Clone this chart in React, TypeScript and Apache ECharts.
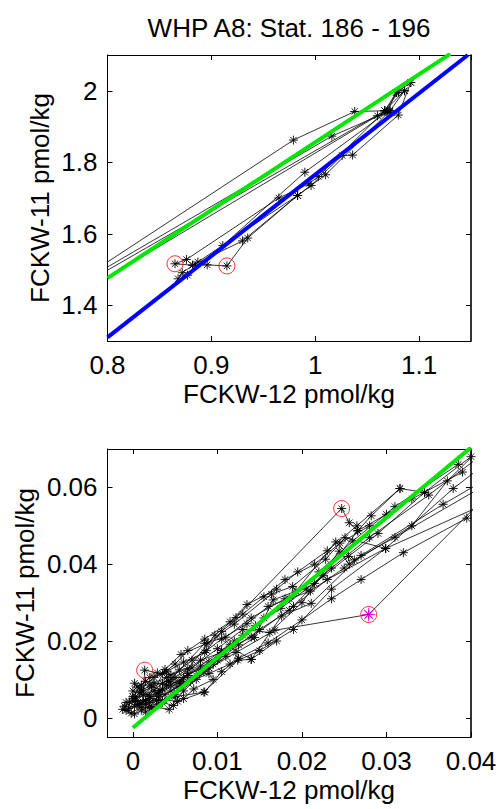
import React, { useEffect, useRef } from "react";
import * as echarts from "echarts";

// ---------- Top panel (FCKW-12 vs FCKW-11, pmol/kg) ----------
const topStation1 = [[1.092, 2.023], [1.078, 1.995], [1.067, 1.944], [1.038, 1.942], [0.979, 1.862], [0.6, 1.14]];
const topStation2 = [[1.086, 2.0], [1.072, 1.944], [1.016, 1.873], [0.6, 1.168]];
const topStation3 = [[1.08, 1.995], [1.067, 1.944], [0.6, 1.164]];
const topStation4 = [[1.072, 1.94], [1.06, 1.93], [0.6, 1.13]];
const topStation5 = [[1.092, 2.023], [1.08, 1.932], [1.036, 1.82], [1.026, 1.819], [0.996, 1.735], [0.983, 1.707], [0.887, 1.521], [0.872, 1.491], [0.868, 1.474]];
const topStation6 = [[1.086, 2.0], [1.067, 1.944], [1.003, 1.76], [0.994, 1.74], [0.965, 1.7], [0.876, 1.528], [0.865, 1.516], [0.882, 1.512], [0.896, 1.513], [0.915, 1.51], [0.935, 1.588], [0.983, 1.707]];
const topStation7 = [[1.078, 1.995], [1.069, 1.94], [0.99, 1.772], [0.911, 1.567], [0.877, 1.484]];
const topStation8 = [[1.072, 1.944], [1.01, 1.765], [0.983, 1.707], [0.93, 1.58], [0.882, 1.512]];
const topFlagged = [[0.865, 1.516], [0.915, 1.51]];
const topGreenFit = [[0.8, 1.476], [1.13, 2.103]];
const topBlueFit = [[0.8, 1.31], [1.147, 2.1]];

// ---------- Bottom panel ----------
const botStation1 = [[-0.0008, 0.0019], [0.0008, 0.0035], [0.003, 0.0062], [0.0057, 0.0095], [0.0084, 0.012], [0.0122, 0.017], [0.0168, 0.0228], [0.0279, 0.0269], [0.046, 0.067]];
const botStation2 = [[0.0002, 0.003], [0.0012, 0.0041], [0.0014, 0.0124], [0.0029, 0.0117], [0.0045, 0.0112], [0.0065, 0.0128], [0.0097, 0.0215], [0.0122, 0.0261], [0.0247, 0.0545], [0.0256, 0.0508], [0.0266, 0.0487], [0.0282, 0.0526], [0.0316, 0.0597], [0.0345, 0.0587]];
const botStation3 = [[-0.0004, 0.0041], [0.002, 0.005], [0.0053, 0.0043], [0.0084, 0.0067], [0.0124, 0.015], [0.014, 0.0152], [0.0176, 0.0265], [0.0211, 0.0298], [0.027, 0.0423], [0.0367, 0.0556], [0.048, 0.07]];
const botStation4 = [[0.0003, 0.0055], [0.0025, 0.007], [0.0038, 0.0126], [0.0057, 0.0165], [0.0089, 0.0195], [0.012, 0.0244], [0.0164, 0.0322], [0.0189, 0.0342], [0.0228, 0.0413], [0.0251, 0.0469], [0.0299, 0.0441], [0.0379, 0.0597], [0.044, 0.07]];
const botStation5 = [[0.001, 0.002], [0.0035, 0.0045], [0.005, 0.006], [0.0075, 0.01], [0.011, 0.016], [0.0144, 0.0209], [0.0166, 0.0307], [0.0193, 0.033], [0.024, 0.0458], [0.0262, 0.0411], [0.031, 0.047], [0.042, 0.061]];
const botStation6 = [[0.0005, 0.008], [0.0015, 0.0095], [0.004, 0.0085], [0.007, 0.013], [0.01, 0.018], [0.013, 0.023], [0.0162, 0.0222], [0.02, 0.03], [0.0244, 0.0434], [0.0256, 0.04], [0.033, 0.05], [0.0372, 0.0617], [0.042, 0.072]];
const botStation7 = [[0.0002, 0.001], [0.002, 0.003], [0.0043, 0.0022], [0.006, 0.007], [0.0095, 0.014], [0.0125, 0.019], [0.015, 0.023], [0.0185, 0.028], [0.0225, 0.037], [0.0266, 0.0487], [0.03, 0.053], [0.033, 0.057], [0.039, 0.064]];
const botStation8 = [[0.0008, 0.0065], [0.0022, 0.008], [0.0045, 0.01], [0.0085, 0.0194], [0.011, 0.021], [0.014, 0.026], [0.018, 0.031], [0.0215, 0.035], [0.0255, 0.042], [0.029, 0.048], [0.0345, 0.0587], [0.04, 0.068]];
const botStation9 = [[0.0, 0.005], [0.0018, 0.006], [0.0035, 0.009], [0.005, 0.0105], [0.008, 0.015], [0.0105, 0.017], [0.014, 0.021], [0.019, 0.029], [0.023, 0.036], [0.0299, 0.0441], [0.042, 0.056]];
const botStation10 = [[-0.001, 0.003], [0.0005, 0.0045], [0.002, 0.004], [0.003, 0.0055], [0.0045, 0.007], [0.006, 0.009], [0.0075, 0.011], [0.009, 0.013], [0.0115, 0.0185], [0.014, 0.0152], [0.017, 0.02]];
const botStation11 = [[0.0, 0.007], [0.0012, 0.006], [0.0025, 0.009], [0.004, 0.0105], [0.0055, 0.0125], [0.007, 0.015], [0.0087, 0.0175], [0.0105, 0.0205], [0.0135, 0.0245], [0.016, 0.029], [0.021, 0.033], [0.025, 0.039]];
const botStation12 = [[0.0005, 0.0035], [0.002, 0.0055], [0.0035, 0.0075], [0.006, 0.0105], [0.008, 0.0135], [0.0105, 0.0175], [0.013, 0.0215], [0.0155, 0.026], [0.0185, 0.031], [0.022, 0.038], [0.026, 0.046], [0.031, 0.055], [0.0385, 0.066]];
const botStation13 = [[-0.0005, 0.0025], [0.0015, 0.0045], [0.003, 0.0065], [0.0045, 0.0085], [0.0065, 0.011], [0.009, 0.0145], [0.0115, 0.019], [0.0145, 0.024], [0.0175, 0.0285], [0.0205, 0.0335], [0.0235, 0.039], [0.028, 0.047], [0.035, 0.058], [0.041, 0.068]];
const botStation14 = [[0.001, 0.0075], [0.0025, 0.0105], [0.004, 0.012], [0.006, 0.0145], [0.0085, 0.017], [0.0105, 0.0225], [0.013, 0.027], [0.0155, 0.0315], [0.018, 0.036], [0.0215, 0.04], [0.0245, 0.0455], [0.028, 0.05]];
const botStation15 = [[0.0015, 0.0015], [0.003, 0.0035], [0.005, 0.0055], [0.0085, 0.0067], [0.0105, 0.012], [0.0125, 0.0155], [0.016, 0.0195], [0.02, 0.0255], [0.0235, 0.031], [0.027, 0.036], [0.032, 0.043], [0.0395, 0.052]];
const botStation16 = [[0.0, 0.0055], [0.001, 0.0085], [0.002, 0.0105], [0.0035, 0.0115], [0.005, 0.014], [0.0065, 0.0175], [0.0085, 0.0205], [0.0115, 0.025], [0.0135, 0.0295], [0.017, 0.0335], [0.0195, 0.038], [0.023, 0.0435], [0.0265, 0.05], [0.0316, 0.0597]];
const botStation17 = [[-0.0008, 0.004], [0.0003, 0.0045], [0.0015, 0.0035], [0.0028, 0.0045], [0.0038, 0.006], [0.0052, 0.008], [0.0068, 0.0095], [0.009, 0.0115], [0.0115, 0.014], [0.015, 0.0175], [0.019, 0.023], [0.0235, 0.0335], [0.0299, 0.0441]];
const botStation18 = [[-0.0012, 0.0022], [-0.0002, 0.0012], [0.001, 0.0028], [0.0022, 0.0025], [0.0035, 0.004], [0.0048, 0.0032], [0.006, 0.005], [0.0072, 0.0075], [0.0095, 0.01]];
const botStation19 = [[0.0002, 0.009], [0.001, 0.007], [0.002, 0.0085], [0.0032, 0.0072], [0.0042, 0.0095], [0.0055, 0.009], [0.0065, 0.0115], [0.008, 0.0125], [0.01, 0.015], [0.012, 0.02]];
const botFlagged = [[0.0014, 0.0124], [0.0247, 0.0545], [0.0279, 0.0269]];
const botHighlighted = [[0.0279, 0.0269]];
const botGreenFit = [[0.0, -0.0026], [0.04, 0.0704]];

const titleText = "WHP A8: Stat. 186 - 196";
const xName = "FCKW-12 pmol/kg";
const yName = "FCKW-11 pmol/kg";

const FONT = "'Liberation Sans', Arial, Helvetica, sans-serif";
const FS = 26;
const STAR = "path://M5,0L5,10M0,5L10,5M1.5,1.5L8.5,8.5M1.5,8.5L8.5,1.5";

function axis(gridIndex: number, position: string, min: number, max: number, labels: boolean, showMin: boolean, showMax: boolean, lineWidth = 1) {
  const vertical = position === "left" || position === "right";
  return {
    type: "value",
    gridIndex,
    position,
    min,
    max,
    splitNumber: 4,
    scale: true,
    axisLine: { show: true, onZero: false, lineStyle: { color: "#000", width: lineWidth } },
    axisTick: { show: true, inside: true, length: 5, lineStyle: { color: "#000", width: 1 } },
    axisLabel: {
      show: labels,
      showMinLabel: showMin,
      showMaxLabel: showMax,
      color: "#000",
      fontSize: FS,
      fontFamily: FONT,
      margin: vertical ? 10 : 11,
    },
    splitLine: { show: false },
  };
}

function station(data: number[][], idx: number) {
  return {
    type: "line",
    data,
    xAxisIndex: idx,
    yAxisIndex: idx,
    symbol: STAR,
    symbolSize: 9,
    showSymbol: true,
    showAllSymbol: true,
    clip: true,
    silent: true,
    lineStyle: { color: "#000", width: 0.8 },
    itemStyle: { color: "#000", borderColor: "#000", borderWidth: 0.9 },
    emphasis: { disabled: true },
    z: 2,
  };
}

function fit(data: number[][], idx: number, color: string) {
  return {
    type: "line",
    data,
    xAxisIndex: idx,
    yAxisIndex: idx,
    symbol: "none",
    clip: true,
    silent: true,
    lineStyle: { color, width: 4 },
    emphasis: { disabled: true },
    z: 3,
  };
}

function circles(data: number[][], idx: number) {
  return {
    type: "scatter",
    data,
    xAxisIndex: idx,
    yAxisIndex: idx,
    symbol: "circle",
    symbolSize: 16,
    silent: true,
    itemStyle: { color: "rgba(0,0,0,0)", borderColor: "#ff0000", borderWidth: 1 },
    z: 4,
  };
}

function textEl(text: string, x: number, y: number, rot = 0) {
  return {
    type: "text",
    x,
    y,
    rotation: rot,
    style: {
      text,
      fill: "#000",
      font: `${FS}px ${FONT}`,
      align: "center",
      verticalAlign: "middle",
      textAlign: "center",
      textVerticalAlign: "middle",
    },
  };
}

const topStations = [topStation1, topStation2, topStation3, topStation4, topStation5, topStation6, topStation7, topStation8];
const botStations = [botStation1, botStation2, botStation3, botStation4, botStation5, botStation6, botStation7, botStation8, botStation9, botStation10, botStation11, botStation12, botStation13, botStation14, botStation15, botStation16, botStation17, botStation18, botStation19];

// axes: 0 = top panel bottom/left, 1 = top panel top/right, 2 = bottom panel bottom/left, 3 = bottom panel top/right
const option = {
  animation: false,
  backgroundColor: "#fff",
  grid: [
    { left: 107.5, top: 55, width: 363.5, height: 286 },
    { left: 107.5, top: 449, width: 363.5, height: 288 },
  ],
  xAxis: [
    axis(0, "bottom", 0.8, 1.15, true, true, false),
    axis(0, "top", 0.8, 1.15, false, false, false),
    axis(1, "bottom", -0.003, 0.04, true, false, true),
    axis(1, "top", -0.003, 0.04, false, false, false),
  ],
  yAxis: [
    axis(0, "left", 1.3, 2.1, true, false, false),
    axis(0, "right", 1.3, 2.1, false, false, false, 1.6),
    axis(1, "left", -0.005, 0.07, true, false, false),
    axis(1, "right", -0.005, 0.07, false, false, false, 1.6),
  ],
  series: [
    ...topStations.map((d) => station(d, 0)),
    fit(topGreenFit, 0, "#00e600"),
    fit(topBlueFit, 0, "#0000ff"),
    circles(topFlagged, 0),
    ...botStations.map((d) => station(d, 2)),
    fit(botGreenFit, 2, "#00e600"),
    circles(botFlagged, 2),
    {
      type: "scatter",
      data: botHighlighted,
      xAxisIndex: 2,
      yAxisIndex: 2,
      symbol: STAR,
      symbolSize: 13,
      silent: true,
      itemStyle: { color: "#ff00ff", borderColor: "#ff00ff", borderWidth: 1.2 },
      z: 5,
    },
  ],
  graphic: [
    textEl(titleText, 289, 28),
    textEl(xName, 289, 394),
    textEl(xName, 289, 790),
    textEl(yName, 40, 198, Math.PI / 2),
    textEl(yName, 25, 593, Math.PI / 2),
  ],
};

export default function App() {
  const ref = useRef<HTMLDivElement>(null);
  useEffect(() => {
    const chart = echarts.init(ref.current as HTMLDivElement, null, { renderer: "svg" });
    chart.setOption(option as any);
    return () => chart.dispose();
  }, []);
  return (
    <div
      ref={ref}
      style={{ position: "absolute", left: 0, top: 0, width: 501, height: 809, background: "#fff" }}
    />
  );
}
